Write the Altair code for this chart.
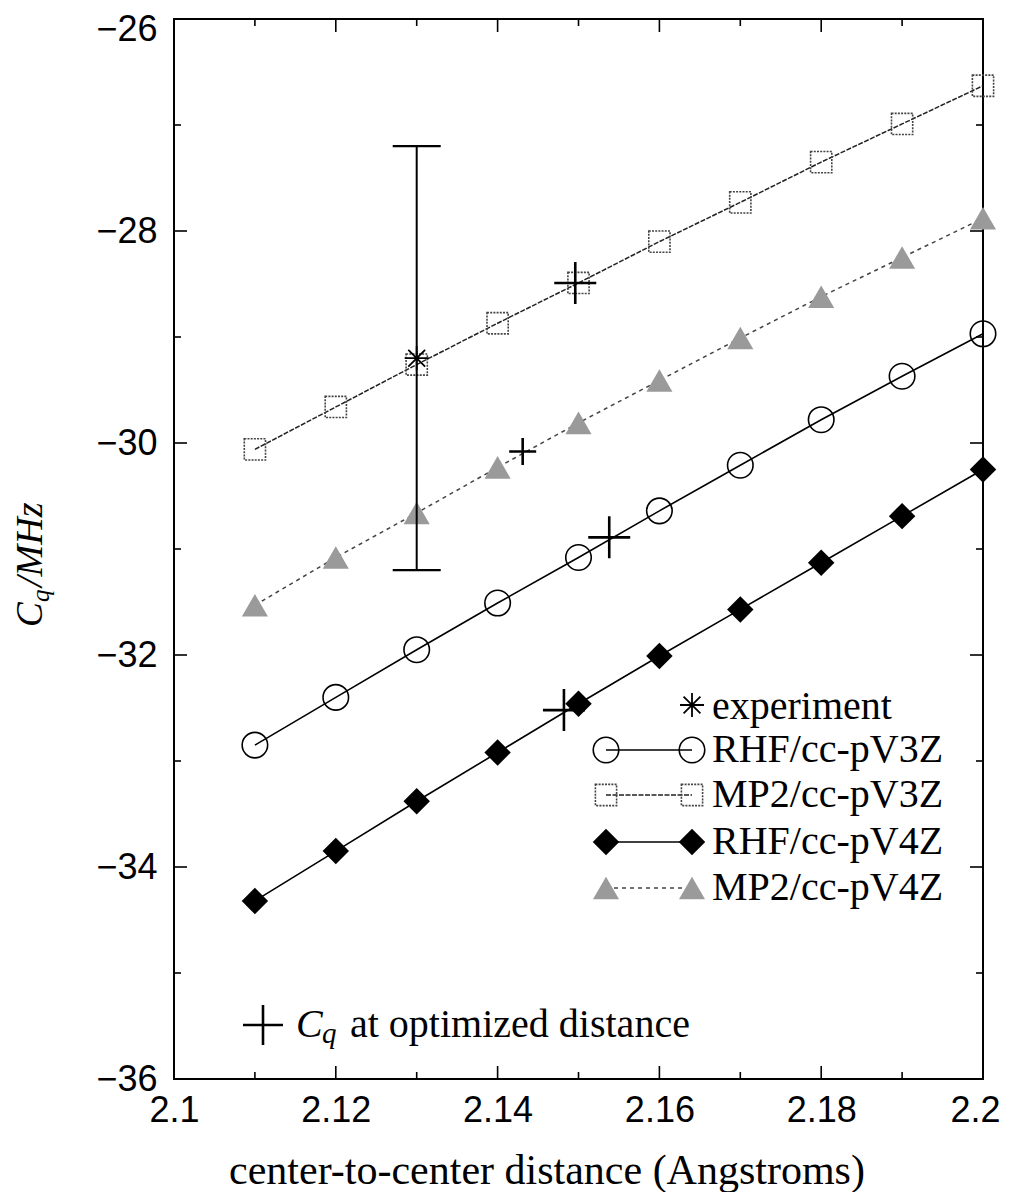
import altair as alt
import pandas as pd

# ---------------- data ----------------
dist = [2.11, 2.12, 2.13, 2.14, 2.15, 2.16, 2.17, 2.18, 2.19, 2.20]
rhf_v3z = [-32.85, -32.40, -31.95, -31.51, -31.08, -30.64, -30.21, -29.78, -29.37, -28.97]
mp2_v3z = [-30.06, -29.66, -29.26, -28.87, -28.49, -28.10, -27.73, -27.35, -26.99, -26.63]
rhf_v4z = [-34.32, -33.85, -33.38, -32.92, -32.46, -32.01, -31.57, -31.13, -30.69, -30.25]
mp2_v4z = [-31.53, -31.08, -30.66, -30.23, -29.81, -29.41, -29.01, -28.62, -28.25, -27.88]

exp_x = [2.13]
exp_y = [-29.2]
exp_lo = [-31.2]
exp_hi = [-27.2]

opt_series = ["MP2/cc-pV3Z", "MP2/cc-pV4Z", "RHF/cc-pV3Z", "RHF/cc-pV4Z"]
opt_x = [2.1496, 2.1431, 2.1538, 2.1482]
opt_y = [-28.49, -30.08, -30.89, -32.52]

x_major = [2.10, 2.12, 2.14, 2.16, 2.18, 2.20]
x_minor = [2.11, 2.13, 2.15, 2.17, 2.19]
y_major = [-36, -34, -32, -30, -28, -26]
y_minor = [-35, -33, -31, -29, -27]

# ---------------- layout / style ----------------
W, H = 809, 1060
SERIF = "Liberation Serif"
SANS = "Liberation Sans"
PLUS = "M-1,0L1,0M0,-1L0,1"
ASTER = "M-1,0L1,0M0,-1L0,1M-0.7,-0.7L0.7,0.7M-0.7,0.7L0.7,-0.7"
HBAR = "M-1,0L1,0"

xs = alt.Scale(domain=[2.1, 2.2], nice=False, zero=False)
ys = alt.Scale(domain=[-36, -26], nice=False, zero=False)

xaxis = alt.Axis(values=x_major, format=".3~f", title=None, ticks=False, domain=False,
                 grid=False, labelFont=SANS, labelFontSize=36, labelColor="black",
                 labelPadding=14, labelFlush=False, labelOverlap=False,
                 labelOffset={"condition": {"test": "datum.value > 2.19", "value": -8}, "value": 0})
yaxis = alt.Axis(values=y_major, format="d", title=None, ticks=False, domain=False,
                 grid=False, labelFont=SANS, labelFontSize=36, labelColor="black",
                 labelPadding=17, labelOverlap=False,
                 labelOffset={"condition": {"test": "datum.value > -26.5", "value": 10}, "value": 0})


def X(field="x"):
    return alt.X(f"{field}:Q", scale=xs, axis=xaxis)


def Y(field="y"):
    return alt.Y(f"{field}:Q", scale=ys, axis=yaxis)


one = pd.DataFrame({"k": [0]})

styles = {
    "RHF/cc-pV3Z": dict(line=dict(color="black", strokeWidth=1.6),
                        pt=dict(shape="circle", filled=False, color="black", strokeWidth=1.6, size=650, opacity=1)),
    "MP2/cc-pV3Z": dict(line=dict(color="#222222", strokeWidth=1.5, strokeDash=[5, 1.5]),
                        pt=dict(shape="square", filled=False, color="#444444", strokeWidth=1.6,
                                strokeDash=[2, 1.2], size=450, opacity=1)),
    "RHF/cc-pV4Z": dict(line=dict(color="black", strokeWidth=1.6),
                        pt=dict(shape="diamond", filled=True, color="black", size=700, opacity=1)),
    "MP2/cc-pV4Z": dict(line=dict(color="#444444", strokeWidth=1.5, strokeDash=[4, 4]),
                        pt=dict(shape="triangle-up", filled=True, color="#9a9a9a", size=680, opacity=1)),
}
series = {
    "RHF/cc-pV3Z": rhf_v3z,
    "MP2/cc-pV3Z": mp2_v3z,
    "RHF/cc-pV4Z": rhf_v4z,
    "MP2/cc-pV4Z": mp2_v4z,
}

layers = []
for name, vals in series.items():
    df = pd.DataFrame({"x": dist, "y": vals})
    layers.append(alt.Chart(df).mark_line(**styles[name]["line"]).encode(x=X(), y=Y()))
for name, vals in series.items():
    df = pd.DataFrame({"x": dist, "y": vals})
    layers.append(alt.Chart(df).mark_point(**styles[name]["pt"]).encode(x=X(), y=Y()))

# experiment with error bar
exp_df = pd.DataFrame({"x": exp_x, "y": exp_y, "lo": exp_lo, "hi": exp_hi})
layers.append(alt.Chart(exp_df).mark_rule(color="black", strokeWidth=2).encode(
    x=X(), y=Y("lo"), y2="hi:Q"))
cap_df = pd.DataFrame({"x": exp_x * 2, "y": exp_lo + exp_hi})
layers.append(alt.Chart(cap_df).mark_point(shape=HBAR, color="black", strokeWidth=2.2,
                                           size=48 * 48, opacity=1).encode(x=X(), y=Y()))
layers.append(alt.Chart(exp_df).mark_point(shape=ASTER, color="black", strokeWidth=1.8,
                                           size=24 * 24, opacity=1).encode(x=X(), y=Y()))

# optimized-distance crosses
opt_df = pd.DataFrame({"x": opt_x, "y": opt_y, "s": opt_series})
big = opt_df[opt_df["s"] != "MP2/cc-pV4Z"]
small = opt_df[opt_df["s"] == "MP2/cc-pV4Z"]
layers.append(alt.Chart(big).mark_point(shape=PLUS, color="black", strokeWidth=2.6,
                                        size=42 * 42, opacity=1).encode(x=X(), y=Y()))
layers.append(alt.Chart(small).mark_point(shape=PLUS, color="black", strokeWidth=2.6,
                                          size=27 * 27, opacity=1).encode(x=X(), y=Y()))


# inward ticks on all four sides
def xticks(vals, length):
    d = pd.DataFrame({"x": vals})
    b = alt.Chart(d).mark_rule(color="black", strokeWidth=1.6).encode(
        x=X(), y=alt.value(H), y2=alt.value(H - length))
    t = alt.Chart(d).mark_rule(color="black", strokeWidth=1.6).encode(
        x=X(), y=alt.value(0), y2=alt.value(length))
    return [b, t]


def yticks(vals, length):
    d = pd.DataFrame({"y": vals})
    l = alt.Chart(d).mark_rule(color="black", strokeWidth=1.6).encode(
        y=Y(), x=alt.value(0), x2=alt.value(length))
    r = alt.Chart(d).mark_rule(color="black", strokeWidth=1.6).encode(
        y=Y(), x=alt.value(W), x2=alt.value(W - length))
    return [l, r]


layers += xticks(x_major, 13) + xticks(x_minor, 7) + yticks(y_major, 13) + yticks(y_minor, 7)

# ---------------- legend (inside plot) ----------------
LEG_X1, LEG_X2, LEG_TX = 432, 518, 538
LEG_ROWS = ["experiment", "RHF/cc-pV3Z", "MP2/cc-pV3Z", "RHF/cc-pV4Z", "MP2/cc-pV4Z"]
LEG_Y = [688, 731, 776, 823, 869]


def txt(s, x, y, size=40, font=SERIF, style="normal", angle=0, align="left", baseline="middle"):
    kw = dict(text=s, font=font, fontSize=size, fontStyle=style, align=align,
              baseline=baseline, color="black")
    if angle:
        kw["angle"] = angle
    return alt.Chart(one).mark_text(**kw).encode(x=alt.value(x), y=alt.value(y))


for name, ly in zip(LEG_ROWS, LEG_Y):
    layers.append(txt(name, LEG_TX, ly))
    if name == "experiment":
        layers.append(alt.Chart(one).mark_point(shape=ASTER, color="black", strokeWidth=1.8,
                                                size=24 * 24, opacity=1).encode(
            x=alt.value(LEG_X2), y=alt.value(ly - 2)))
        continue
    st = styles[name]
    layers.append(alt.Chart(one).mark_rule(**st["line"]).encode(
        x=alt.value(LEG_X1), x2=alt.value(LEG_X2), y=alt.value(ly)))
    for px in (LEG_X1, LEG_X2):
        layers.append(alt.Chart(one).mark_point(**st["pt"]).encode(
            x=alt.value(px), y=alt.value(ly)))

# bottom-left key for optimized distance
layers.append(alt.Chart(one).mark_point(shape=PLUS, color="black", strokeWidth=2.6,
                                        size=40 * 40, opacity=1).encode(
    x=alt.value(89), y=alt.value(1006)))
layers.append(txt("C", 122, 1018, size=40, style="italic", baseline="alphabetic"))
layers.append(txt("q", 148, 1024, size=29, style="italic", baseline="alphabetic"))
layers.append(txt("at optimized distance", 176, 1018, size=40, baseline="alphabetic"))

# axis titles
layers.append(txt("center-to-center distance (Angstroms)", 373, 1165, size=42,
                  align="center", baseline="alphabetic"))
layers.append(txt("C", -132, 608, size=37, style="italic", angle=270, baseline="alphabetic"))
layers.append(txt("q", -125, 583, size=25, style="italic", angle=270, baseline="alphabetic"))
layers.append(txt("/MHz", -132, 568, size=38, style="italic", angle=270, baseline="alphabetic"))

chart = alt.layer(*layers).properties(
    width=W, height=H,
    autosize=alt.AutoSizeParams(type="none"),
    padding={"left": 166, "top": 11, "right": 21, "bottom": 113},
    background="white",
).configure_view(stroke="black", strokeWidth=2)

chart.save("out.html", embed_options={"renderer": "svg", "actions": False})
